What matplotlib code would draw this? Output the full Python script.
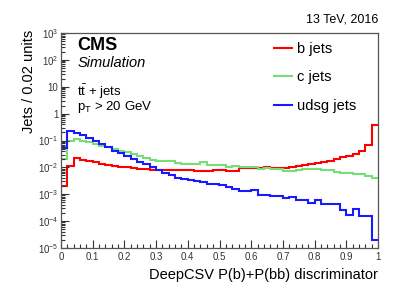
import numpy as np
import matplotlib
matplotlib.use('Agg')
import matplotlib.pyplot as plt
from matplotlib.ticker import FuncFormatter, LogLocator, MultipleLocator, NullFormatter

plt.rcParams['font.family'] = ['Liberation Sans', 'DejaVu Sans']
plt.rcParams['mathtext.fontset'] = 'custom'
plt.rcParams['mathtext.rm'] = 'Liberation Sans'
plt.rcParams['mathtext.it'] = 'Liberation Sans:italic'
plt.rcParams['mathtext.bf'] = 'Liberation Sans:bold'

# 50 bins of 0.02 in the discriminator
bin_edges = np.linspace(0, 1, 51)

b_jets = [0.0021, 0.0116, 0.022, 0.0194, 0.017, 0.0155, 0.0138, 0.0123, 0.0116, 0.0106,
          0.0101, 0.0095, 0.009, 0.0087, 0.0082, 0.008, 0.0078, 0.0082, 0.0082, 0.0082,
          0.0082, 0.0075, 0.0075, 0.0071, 0.008, 0.008, 0.0075, 0.0075, 0.0093, 0.0093,
          0.0093, 0.0093, 0.0101, 0.0095, 0.0095, 0.0095, 0.0106, 0.0116, 0.0123, 0.0134,
          0.0146, 0.0164, 0.0178, 0.0206, 0.024, 0.0275, 0.032, 0.042, 0.069, 0.364]

c_jets = [0.0206, 0.1, 0.109, 0.1, 0.087, 0.075, 0.065, 0.056, 0.049, 0.042,
          0.037, 0.032, 0.0275, 0.022, 0.019, 0.017, 0.017, 0.0175, 0.0142, 0.0134,
          0.0134, 0.0134, 0.0155, 0.0123, 0.0123, 0.0123, 0.0106, 0.0116, 0.0106, 0.0106,
          0.0106, 0.0087, 0.0093, 0.0087, 0.0087, 0.0075, 0.0075, 0.008, 0.0087, 0.0087,
          0.0087, 0.008, 0.008, 0.0065, 0.0062, 0.0062, 0.0055, 0.0055, 0.0047, 0.0039]

udsg_jets = [0.052, 0.217, 0.195, 0.163, 0.123, 0.092, 0.073, 0.056, 0.042, 0.034,
             0.026, 0.0206, 0.0164, 0.0134, 0.0101, 0.0082, 0.0063, 0.0052, 0.0041, 0.0037,
             0.0033, 0.0031, 0.0028, 0.0025, 0.0025, 0.0022, 0.0018, 0.0016, 0.0013, 0.0013,
             0.0014, 0.00095, 0.00092, 0.00087, 0.00087, 0.0007, 0.00076, 0.00062, 0.00062, 0.00047,
             0.00062, 0.00043, 0.00043, 0.00043, 0.00026, 0.00017, 0.00029, 0.00015, 0.00015, 0.00002]

colors = ['#ff0000', '#77dd77', '#1a1aff']

fig = plt.figure(figsize=(4.07, 2.93), dpi=100)
ax = fig.add_axes([61 / 407, 1 - 248 / 293, 317 / 407, 215 / 293])

ax.stairs(b_jets, bin_edges, baseline=None, color=colors[0], lw=1.5)
ax.stairs(c_jets, bin_edges, baseline=None, color=colors[1], lw=1.5)
ax.stairs(udsg_jets, bin_edges, baseline=None, color=colors[2], lw=1.5)

ax.set_yscale('log')
ax.set_xlim(0, 1)
ax.set_ylim(1e-5, 1e3)


def root_log(v, pos):
    e = int(round(np.log10(v)))
    if e == 0:
        return '1'
    if e == 1:
        return '10'
    return r'$10^{%d}$' % e


ax.yaxis.set_major_locator(LogLocator(base=10, numticks=20))
ax.yaxis.set_minor_locator(LogLocator(base=10, subs=np.arange(2, 10), numticks=20))
ax.yaxis.set_major_formatter(FuncFormatter(root_log))
ax.yaxis.set_minor_formatter(NullFormatter())
ax.xaxis.set_major_locator(MultipleLocator(0.1))
ax.xaxis.set_minor_locator(MultipleLocator(0.02))
ax.xaxis.set_major_formatter(FuncFormatter(lambda v, p: '0' if v < 1e-9 else ('1' if abs(v - 1) < 1e-9 else '%.1f' % v)))

ax.tick_params(which='both', direction='in', top=False, right=False, labelsize=7, colors='#333333', width=0.8)
ax.tick_params(which='major', length=6)
ax.tick_params(which='minor', length=3)
ax.tick_params(axis='x', pad=3)
ax.tick_params(axis='y', pad=2)
for s in ax.spines.values():
    s.set_color('#555555')
    s.set_linewidth(0.9)

ax.set_xlabel('DeepCSV P(b)+P(bb) discriminator', fontsize=10.5, ha='right', x=1.0)
ax.set_ylabel('Jets / 0.02 units', fontsize=10.5, ha='right')
ax.yaxis.set_label_coords(-0.078, 1.014)

ax.text(0.052, 0.982, 'CMS', transform=ax.transAxes, fontsize=13, fontweight='bold', va='top')
ax.text(0.052, 0.892, 'Simulation', transform=ax.transAxes, fontsize=10.5, style='italic', va='top')
ax.text(0.052, 0.772, r'$\mathrm{t\bar{t}}$ + jets', transform=ax.transAxes, fontsize=9.5, va='top')
ax.text(0.052, 0.692, r'p$_{\mathrm{T}}$ > 20 GeV', transform=ax.transAxes, fontsize=9.5, va='top')
fig.text(378 / 407, 1 - 19 / 293, '13 TeV, 2016', fontsize=9, ha='right', va='center')

ax.legend(handles=[plt.Line2D([], [], color=c, lw=1.5) for c in colors],
          labels=['b jets', 'c jets', 'udsg jets'],
          loc='upper right', bbox_to_anchor=(0.965, 1.007), frameon=False, fontsize=10.5,
          handlelength=1.2, handletextpad=0.4, labelspacing=1.0, borderaxespad=0.3)

fig.savefig('out.png', dpi=100)
